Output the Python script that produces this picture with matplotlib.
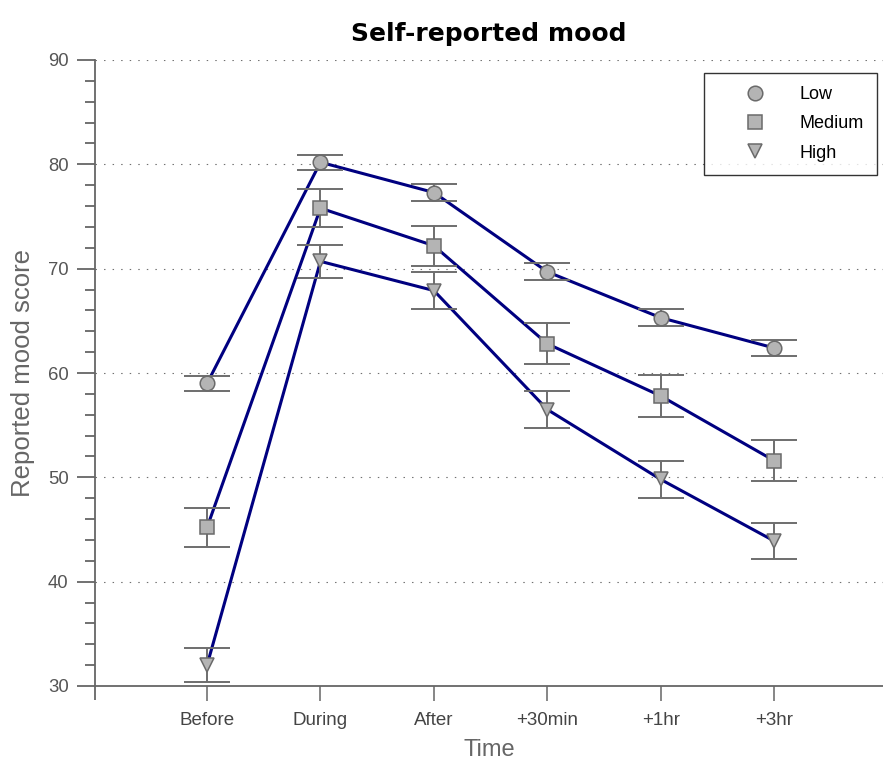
import matplotlib
matplotlib.use("Agg")
import matplotlib.pyplot as plt
import numpy as np
from matplotlib.ticker import MultipleLocator

plt.rcParams['font.family'] = ['Liberation Sans', 'DejaVu Sans']

categories = ["Before", "During", "After", "+30min", "+1hr", "+3hr"]
low = [59.0, 80.2, 77.3, 69.7, 65.3, 62.4]
low_err = [0.7, 0.7, 0.8, 0.8, 0.8, 0.8]
medium = [45.2, 75.8, 72.2, 62.8, 57.8, 51.6]
medium_err = [1.85, 1.8, 1.9, 1.95, 2.0, 1.95]
high = [32.0, 70.7, 67.9, 56.5, 49.8, 43.9]
high_err = [1.65, 1.6, 1.75, 1.75, 1.75, 1.75]
series_names = ["Low", "Medium", "High"]
markers = ["o", "s", "v"]

W, H = 883, 760
fig = plt.figure(figsize=(W/100, H/100), dpi=100)
ax_left, ax_right, ax_top, ax_bottom = 95, 883, 60, 686
ax = fig.add_axes([ax_left/W, 1-ax_bottom/H, (ax_right-ax_left)/W, (ax_bottom-ax_top)/H])

x = np.arange(len(categories))
line_color = "#000080"
face = "#b4b4b4"
edge = "#6a6a6a"
err_color = "#6e6e6e"

handles = []
for vals, errs, mk, name in zip([low, medium, high], [low_err, medium_err, high_err], markers, series_names):
    ax.plot(x, vals, color=line_color, lw=2.2, zorder=2)
    ax.errorbar(x, vals, yerr=errs, fmt='none', ecolor=err_color, elinewidth=1.4,
                capsize=16.5, capthick=1.4, zorder=3)
    h = ax.plot(x, vals, linestyle='none', marker=mk, markersize=10.5,
                markerfacecolor=face, markeredgecolor=edge, markeredgewidth=1.1,
                zorder=4, label=name)[0]
    handles.append(h)

ax.set_xlim(-0.988, 5.96)
ax.set_ylim(30, 90)
ax.set_xticks(x)
ax.set_xticklabels(categories)
ax.yaxis.set_major_locator(MultipleLocator(10))
ax.yaxis.set_minor_locator(MultipleLocator(2))

for yv in range(40, 91, 10):
    ax.axhline(yv, color="#707070", lw=0.8, linestyle=(0, (1.3, 6.4)), zorder=1)

for s in ["top", "right"]:
    ax.spines[s].set_visible(False)
for s in ["left", "bottom"]:
    ax.spines[s].set_color("#666666")
    ax.spines[s].set_linewidth(1.3)

# extend left spine slightly below the x axis, as in the reference
ax.plot([0, 0], [0, -14/(ax_bottom-ax_top)], transform=ax.transAxes, color="#666666",
        lw=1.3, clip_on=False, solid_capstyle='butt')

ax.tick_params(axis='y', which='major', length=13, width=1.3, color="#666666",
               labelsize=13.3, labelcolor="#555555", pad=6)
ax.tick_params(axis='y', which='minor', length=7.5, width=1.3, color="#666666")
ax.tick_params(axis='x', which='major', length=11, width=1.1, color="#666666",
               labelsize=13.5, labelcolor="#444444", pad=8)

ax.set_title("Self-reported mood", fontsize=18, fontweight='bold', pad=14,
             family=['DejaVu Sans'])
ax.set_xlabel("Time", fontsize=17, color="#666666", labelpad=7)
ax.set_ylabel("Reported mood score", fontsize=18.5, color="#666666", labelpad=9)

leg = ax.legend(handles=handles, loc='upper right',
                bbox_to_anchor=((877-ax_left)/(ax_right-ax_left), 1 - 13/(ax_bottom-ax_top)),
                frameon=True, fancybox=False, edgecolor='black', fontsize=13,
                handlelength=4.2, handletextpad=0.4, borderpad=0.72, labelspacing=0.68,
                borderaxespad=0)
leg.get_frame().set_linewidth(1.0)

fig.savefig("out.png", dpi=100, facecolor='white')
